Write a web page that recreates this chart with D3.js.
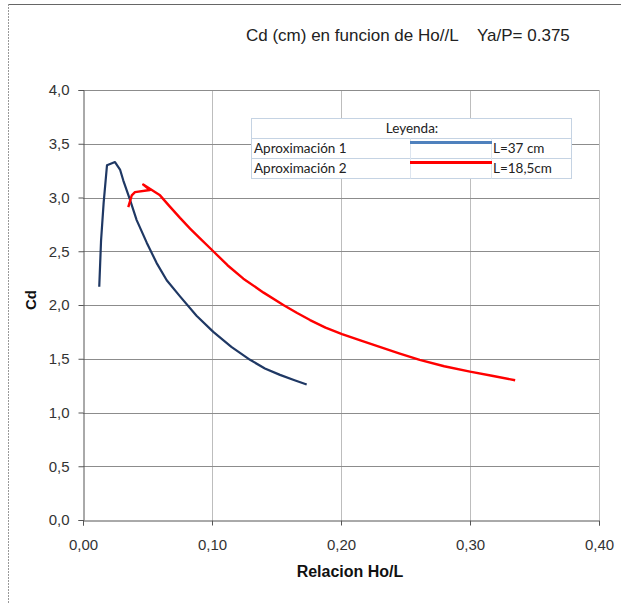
<!DOCTYPE html>
<html>
<head>
<meta charset="utf-8">
<script src="https://cdn.jsdelivr.net/npm/d3@7"></script>
<style>
  html, body { margin: 0; padding: 0; background: #fff; }
  svg { display: block; }
</style>
</head>
<body>
<svg id="chart" width="621" height="604"></svg>
<script>
// Cd vs Ho/L — two approximations
const titleMain = "Cd (cm) en funcion de Ho//L";
const titleRatio = "Ya/P= 0.375";
const xTicks = [0, 0.1, 0.2, 0.3, 0.4];
const yTicks = [0, 0.5, 1, 1.5, 2, 2.5, 3, 3.5, 4];

const serie1Name = "Aproximación 1";
const serie1Label = "L=37 cm";
const serie1X = [0.0126, 0.0140, 0.0160, 0.0186, 0.0248, 0.0287, 0.0312, 0.0364, 0.0416, 0.0494, 0.0571, 0.0649, 0.0752, 0.0880, 0.1010, 0.1150, 0.1295, 0.1410, 0.1527, 0.1640, 0.1734];
const serie1Y = [2.17, 2.60, 2.95, 3.30, 3.33, 3.26, 3.16, 2.98, 2.79, 2.58, 2.39, 2.23, 2.08, 1.90, 1.75, 1.61, 1.49, 1.41, 1.35, 1.30, 1.26];

const serie2Name = "Aproximación 2";
const serie2Label = "L=18,5cm";
const serie2X = [0.0351, 0.0378, 0.0403, 0.0519, 0.0467, 0.0597, 0.0670, 0.0752, 0.0830, 0.0907, 0.1010, 0.1120, 0.1243, 0.1400, 0.1553, 0.1660, 0.1760, 0.1880, 0.2008, 0.2150, 0.2300, 0.2450, 0.2610, 0.2800, 0.3000, 0.3180, 0.3350];
const serie2Y = [2.91, 3.02, 3.05, 3.07, 3.12, 3.02, 2.92, 2.81, 2.71, 2.62, 2.50, 2.37, 2.245, 2.115, 2.00, 1.925, 1.86, 1.79, 1.73, 1.67, 1.61, 1.55, 1.49, 1.43, 1.38, 1.34, 1.30];

const svg = d3.select("#chart");
const W = 621, H = 604;
const m = { left: 83, right: 22, top: 90, bottom: 84 };
const af = "Liberation Sans, Arial, sans-serif";

// outer frame: solid top edge, dotted left edge
svg.append("line").attr("x1", 8).attr("x2", W).attr("y1", 4.5).attr("y2", 4.5)
  .attr("stroke", "#666").attr("stroke-width", 1);
svg.append("line").attr("x1", 8.5).attr("x2", 8.5).attr("y1", 4).attr("y2", H)
  .attr("stroke", "#999").attr("stroke-width", 1).attr("stroke-dasharray", "2,1");

const x = d3.scaleLinear().domain([0, 0.4]).range([m.left, W - m.right]);
const y = d3.scaleLinear().domain([0, 4]).range([H - m.bottom, m.top]);

// vertical grid
svg.append("g").selectAll("line").data(xTicks.slice(1)).join("line")
  .attr("x1", d => Math.round(x(d)) + 0.5).attr("x2", d => Math.round(x(d)) + 0.5)
  .attr("y1", y(4)).attr("y2", y(0))
  .attr("stroke", "#bdbdbd").attr("stroke-width", 1);
// horizontal grid
svg.append("g").selectAll("line").data(yTicks.slice(1)).join("line")
  .attr("x1", x(0)).attr("x2", x(0.4))
  .attr("y1", d => Math.round(y(d)) + 0.5).attr("y2", d => Math.round(y(d)) + 0.5)
  .attr("stroke", "#8c8c8c").attr("stroke-width", 1);

const fmtX = d => d3.format(".2f")(d).replace(".", ",");
const fmtY = d => d3.format(".1f")(d).replace(".", ",");

const xAxis = svg.append("g").attr("transform", `translate(0,${Math.round(y(0)) + 0.5})`)
  .call(d3.axisBottom(x).tickValues(xTicks).tickFormat(fmtX).tickSizeOuter(0).tickSize(5).tickPadding(14));
const yAxis = svg.append("g").attr("transform", `translate(${Math.round(x(0)) + 0.5},0)`)
  .call(d3.axisLeft(y).tickValues(yTicks).tickFormat(fmtY).tickSizeOuter(0).tickSize(5).tickPadding(9));
[xAxis, yAxis].forEach(a => {
  a.select(".domain").attr("stroke", "#555");
  a.selectAll(".tick line").attr("stroke", "#555");
  a.selectAll(".tick text").attr("font-family", af)
    .attr("font-size", 15).attr("fill", "#333");
});

// series lines
const line = d3.line().x(d => x(d[0])).y(d => y(d[1]));
const s1 = serie1X.map((v, i) => [v, serie1Y[i]]);
const s2 = serie2X.map((v, i) => [v, serie2Y[i]]);
svg.append("path").datum(s1).attr("d", line)
  .attr("fill", "none").attr("stroke", "#1f3864").attr("stroke-width", 2.2)
  .attr("stroke-linejoin", "round");
svg.append("path").datum(s2).attr("d", line)
  .attr("fill", "none").attr("stroke", "#ff0000").attr("stroke-width", 2.4)
  .attr("stroke-linejoin", "round");

// titles
svg.append("text").attr("x", 246).attr("y", 41)
  .attr("font-family", af).attr("font-size", 17).attr("fill", "#222").text(titleMain);
svg.append("text").attr("x", 477).attr("y", 41)
  .attr("font-family", af).attr("font-size", 17).attr("fill", "#222").text(titleRatio);
svg.append("text").attr("x", 350).attr("y", 577).attr("text-anchor", "middle")
  .attr("font-family", af).attr("font-size", 16)
  .attr("font-weight", "bold").attr("fill", "#111").text("Relacion Ho/L");
svg.append("text").attr("transform", "translate(36,300) rotate(-90)").attr("text-anchor", "middle")
  .attr("font-family", af).attr("font-size", 15)
  .attr("font-weight", "bold").attr("fill", "#111").text("Cd");

// legend table
const lg = svg.append("g").attr("transform", "translate(251,118)");
const colX = [0, 159, 240, 320];
const rowY = [0, 20, 40, 60];
lg.append("rect").attr("x", 0.5).attr("y", 0.5).attr("width", 320).attr("height", 60)
  .attr("fill", "#fff").attr("stroke", "#c5d3e3");
[20, 40].forEach(r => lg.append("line").attr("x1", 0.5).attr("x2", 320.5)
  .attr("y1", r + 0.5).attr("y2", r + 0.5).attr("stroke", "#c5d3e3"));
[159, 240].forEach(c => lg.append("line").attr("x1", c + 0.5).attr("x2", c + 0.5)
  .attr("y1", 20.5).attr("y2", 60.5).attr("stroke", "#dde5ef"));
const lf = "Lato, 'Open Sans', sans-serif";
lg.append("text").attr("x", 161).attr("y", 15).attr("text-anchor", "middle")
  .attr("font-family", lf).attr("font-size", 13.5).attr("fill", "#222").text("Leyenda:");
const rows = [
  { name: serie1Name, label: serie1Label, color: "#4f81bd" },
  { name: serie2Name, label: serie2Label, color: "#ff0000" }
];
rows.forEach((r, i) => {
  const top = rowY[i + 1];
  lg.append("text").attr("x", 3).attr("y", top + 15).attr("font-family", lf)
    .attr("font-size", 13.5).attr("fill", "#222").text(r.name);
  lg.append("line").attr("x1", colX[1]).attr("x2", colX[2] + 1)
    .attr("y1", top + 4.5).attr("y2", top + 4.5).attr("stroke", r.color).attr("stroke-width", 3);
  lg.append("text").attr("x", colX[2] + 2).attr("y", top + 15).attr("font-family", lf)
    .attr("font-size", 13.5).attr("fill", "#222").text(r.label);
});
</script>
</body>
</html>
